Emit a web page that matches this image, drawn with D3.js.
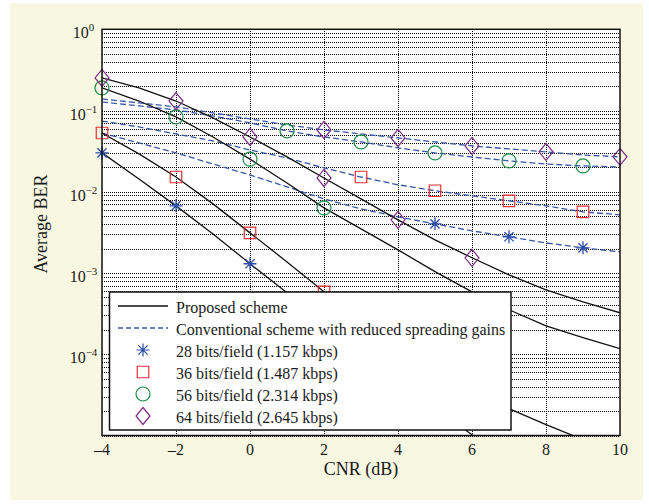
<!DOCTYPE html>
<html>
<head>
<meta charset="utf-8">
<script src="https://cdn.jsdelivr.net/npm/d3@7/dist/d3.min.js"></script>
<style>
  body { margin: 0; background: #fff; }
  svg text { font-family: "Liberation Serif", "Times New Roman", serif; fill: #1a1a1a; }
</style>
</head>
<body>
<div class="canvas"></div>
<script>
const width = 649;
const height = 504;

// CNR values (dB), one per curve point
const cnr = [-4, -3, -2, -1, 0, 1, 2, 3, 4, 5, 6, 7, 8, 9, 10];
const xTicks = [-4, -2, 0, 2, 4, 6, 8, 10];
const yDecades = [1, 1e-1, 1e-2, 1e-3, 1e-4];
const yExponents = ["0", "\u22121", "\u22122", "\u22123", "\u22124"];

// proposed scheme (solid lines)
const prop28 = [0.0301, 0.0144, 0.00671, 0.00303, 0.00130, 0.000571, 0.000251, 0.000110, 4.86e-5, 2.2e-5, 1.02e-5, 5.0e-6];
const prop36 = [0.0529, 0.0293, 0.0152, 0.00710, 0.00312, 0.00137, 0.000587, 0.000274, 0.000131, 6.83e-5, 3.66e-5, 2.14e-5, 1.36e-5, 8.9e-6];
const prop56 = [0.190, 0.131, 0.0834, 0.0473, 0.0252, 0.0128, 0.00634, 0.00350, 0.00193, 0.00104, 0.000587, 0.000353, 0.000224, 0.000160, 0.000117];
const prop64 = [0.252, 0.190, 0.131, 0.0811, 0.0473, 0.0269, 0.0148, 0.00818, 0.00451, 0.00256, 0.00154, 0.000950, 0.000621, 0.000442, 0.000324];

// conventional scheme with reduced spreading gains (dashed lines)
const conv28 = [0.0529, 0.0399, 0.0301, 0.0220, 0.0161, 0.0115, 0.00818, 0.00616, 0.00491, 0.00403, 0.00330, 0.00279, 0.00235, 0.00204, 0.00182];
const conv36 = [0.0743, 0.0628, 0.0515, 0.0423, 0.0327, 0.0261, 0.0197, 0.0152, 0.0122, 0.0103, 0.00891, 0.00773, 0.00671, 0.00566, 0.00520];
const conv56 = [0.1276, 0.114, 0.1017, 0.0858, 0.0704, 0.0561, 0.0473, 0.0411, 0.0347, 0.0301, 0.0268, 0.0240, 0.0220, 0.0208, 0.0202];
const conv64 = [0.139, 0.124, 0.111, 0.0934, 0.0788, 0.0665, 0.0577, 0.0515, 0.0460, 0.0411, 0.0367, 0.0337, 0.0310, 0.0284, 0.0269];

// where the markers sit on each curve (CNR values)
const propMarks28 = [-4, -2, 0];
const propMarks36 = [-4, -2, 0, 2];
const propMarks56 = [-4, -2, 0, 2];
const propMarks64 = [-4, -2, 0, 2, 4, 6];
const convMarks28 = [5, 7, 9];
const convMarks36 = [3, 5, 7, 9];
const convMarks56 = [1, 3, 5, 7, 9];
const convMarks64 = [2, 4, 6, 8, 10];

const legendLabels = [
  "Proposed scheme",
  "Conventional scheme with reduced spreading gains",
  "28 bits/field (1.157 kbps)",
  "36 bits/field (1.487 kbps)",
  "56 bits/field (2.314 kbps)",
  "64 bits/field (2.645 kbps)"
];

const series = [
  { prop: prop28, conv: conv28, pm: propMarks28, cm: convMarks28, shape: "star", color: "#2d4ea6" },
  { prop: prop36, conv: conv36, pm: propMarks36, cm: convMarks36, shape: "square", color: "#ec2f36" },
  { prop: prop56, conv: conv56, pm: propMarks56, cm: convMarks56, shape: "circle", color: "#1c8a44" },
  { prop: prop64, conv: conv64, pm: propMarks64, cm: convMarks64, shape: "diamond", color: "#7a2b84" }
];

const dashColor = "#3857a8";

const svg = d3.select(".canvas")
  .append("svg")
  .attr("width", width)
  .attr("height", height);

// pale yellow panel
svg.append("rect")
  .attr("x", 10).attr("y", 3)
  .attr("width", 633).attr("height", 497)
  .attr("fill", "#f8f7e1");

const margin = { top: 29.3, right: 29, bottom: 68.5, left: 102 };
const graphWidth = width - margin.left - margin.right;
const graphHeight = height - margin.top - margin.bottom;

const graph = svg.append("g")
  .attr("transform", `translate(${margin.left}, ${margin.top})`);

graph.append("rect")
  .attr("width", graphWidth).attr("height", graphHeight)
  .attr("fill", "#fff");

const xScale = d3.scaleLinear().domain([-4, 10]).range([0, graphWidth]);
const yScale = d3.scaleLog().domain([1e-5, 1]).range([graphHeight, 0]);

// grid (dotted)
graph.append("g")
  .attr("class", "grid")
  .call(d3.axisLeft(yScale).tickValues(yScale.ticks()).tickSize(-graphWidth).tickFormat(""))
  .call(g => g.select(".domain").remove())
  .selectAll("line")
  .attr("stroke", "#000")
  .attr("stroke-width", 1)
  .attr("shape-rendering", "crispEdges")
  .attr("stroke-dasharray", "1,1");

graph.append("g")
  .attr("class", "grid")
  .attr("transform", `translate(0, ${graphHeight})`)
  .call(d3.axisBottom(xScale).tickValues(xTicks.slice(1, -1)).tickSize(-graphHeight).tickFormat(""))
  .call(g => g.select(".domain").remove())
  .selectAll("line")
  .attr("stroke", "#000")
  .attr("stroke-width", 1)
  .attr("shape-rendering", "crispEdges")
  .attr("stroke-dasharray", "1,1");

// clip curves to the axes box
svg.append("defs").append("clipPath")
  .attr("id", "plot-clip")
  .append("rect")
  .attr("width", graphWidth).attr("height", graphHeight);

const line = d3.line()
  .x((d, i) => xScale(cnr[i]))
  .y(d => yScale(d));

const curves = graph.append("g").attr("clip-path", "url(#plot-clip)");

series.forEach(s => {
  curves.append("path")
    .attr("d", line(s.conv))
    .attr("fill", "none")
    .attr("stroke", dashColor)
    .attr("stroke-width", 1.3)
    .attr("stroke-dasharray", "6,3");
});

series.forEach(s => {
  curves.append("path")
    .attr("d", line(s.prop))
    .attr("fill", "none")
    .attr("stroke", "#111")
    .attr("stroke-width", 1.3);
});

// marker shapes
function markerPath(shape) {
  if (shape === "circle") return d3.symbol(d3.symbolCircle, Math.PI * 7 * 7)();
  if (shape === "square") return d3.symbol(d3.symbolSquare, 11.5 * 11.5)();
  if (shape === "diamond") return "M0,-8.5L7,0L0,8.5L-7,0Z";
  // 8-arm asterisk
  const r = 6.5, q = r * Math.SQRT1_2;
  return `M0,${-r}V${r}M${-r},0H${r}M${-q},${-q}L${q},${q}M${-q},${q}L${q},${-q}`;
}

function drawMarkers(g, xs, values, s) {
  g.selectAll(null)
    .data(xs)
    .enter()
    .append("path")
    .attr("d", markerPath(s.shape))
    .attr("transform", d => `translate(${xScale(d)}, ${yScale(values[cnr.indexOf(d)])})`)
    .attr("fill", "none")
    .attr("stroke", s.color)
    .attr("stroke-width", s.shape === "star" ? 1.3 : 1.2);
}

const marks = graph.append("g");
series.forEach(s => {
  drawMarkers(marks, s.pm, s.prop, s);
  drawMarkers(marks, s.cm, s.conv, s);
});

// axes box
graph.append("rect")
  .attr("width", graphWidth).attr("height", graphHeight)
  .attr("fill", "none")
  .attr("stroke", "#111")
  .attr("stroke-width", 1.5);

// x tick labels
graph.append("g")
  .selectAll("text")
  .data(xTicks)
  .enter()
  .append("text")
  .attr("x", d => xScale(d))
  .attr("y", graphHeight + 19.5)
  .attr("text-anchor", "middle")
  .attr("font-size", 16)
  .text(d => d < 0 ? "\u2013" + Math.abs(d) : d);

// y tick labels 10^n
const yLabels = graph.append("g")
  .selectAll("text")
  .data(yDecades)
  .enter()
  .append("text")
  .attr("x", -18.5)
  .attr("y", d => yScale(d) + 9)
  .attr("text-anchor", "middle")
  .attr("font-size", 16);
yLabels.append("tspan").text("10");
yLabels.append("tspan")
  .attr("dy", -7)
  .attr("font-size", 11)
  .text((d, i) => yExponents[i]);

// axis titles
svg.append("text")
  .attr("x", margin.left + graphWidth / 2)
  .attr("y", 475)
  .attr("text-anchor", "middle")
  .attr("font-size", 18)
  .text("CNR (dB)");

svg.append("text")
  .attr("transform", "translate(47, 224) rotate(-90)")
  .attr("text-anchor", "middle")
  .attr("font-size", 18)
  .text("Average BER");

// legend
const legend = svg.append("g");
legend.append("rect")
  .attr("x", 109.5).attr("y", 292)
  .attr("width", 401.5).attr("height", 138)
  .attr("fill", "#fff")
  .attr("stroke", "#111")
  .attr("stroke-width", 1.5);

const rowY = [306, 328, 350, 372, 394, 416];

legend.append("line")
  .attr("x1", 118).attr("x2", 168)
  .attr("y1", rowY[0]).attr("y2", rowY[0])
  .attr("stroke", "#111").attr("stroke-width", 1.3);
legend.append("line")
  .attr("x1", 118).attr("x2", 168)
  .attr("y1", rowY[1]).attr("y2", rowY[1])
  .attr("stroke", dashColor).attr("stroke-width", 1.3)
  .attr("stroke-dasharray", "5,3");

series.forEach((s, i) => {
  legend.append("path")
    .attr("d", markerPath(s.shape))
    .attr("transform", `translate(143, ${rowY[i + 2]})`)
    .attr("fill", "none")
    .attr("stroke", s.color)
    .attr("stroke-width", 1.2);
});

legend.selectAll("text")
  .data(legendLabels)
  .enter()
  .append("text")
  .attr("x", 176)
  .attr("y", (d, i) => rowY[i] + 6.5)
  .attr("font-size", 16)
  .text(d => d);
</script>
</body>
</html>
